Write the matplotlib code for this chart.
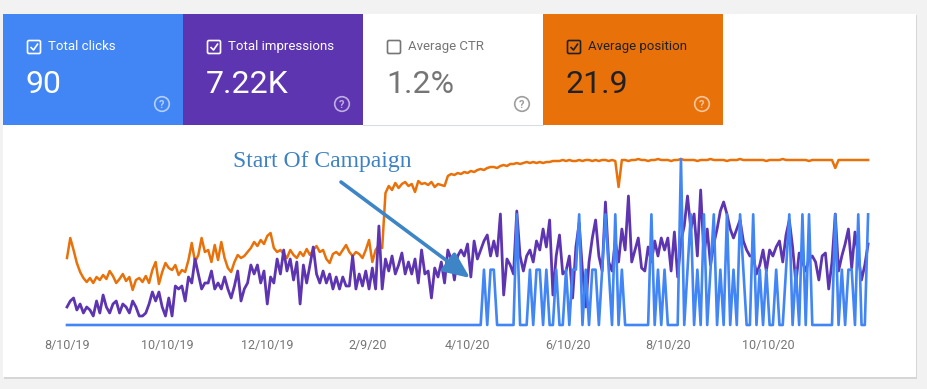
import matplotlib
matplotlib.use("Agg")
import matplotlib.pyplot as plt
from matplotlib.patches import Rectangle, FancyBboxPatch, Circle, FancyArrowPatch
import pandas as pd

plt.rcParams["font.family"] = ["Roboto", "DejaVu Sans"]

# --- data (one point every 2 days from 8/10/19) ---
start_day = "2019-08-10"

# average position (lower is better, axis drawn inverted)
position = [
    48.2, 40.2, 45, 50.2, 53.8, 56.2, 57.8, 56.2, 58.2, 55.8,
    57, 55, 56.6, 53.4, 55.4, 58.2, 56.6, 54.6, 57.4, 55.8,
    61, 57, 56.2, 57.8, 55.4, 58.2, 53, 49.8, 58.6, 53.8,
    50.2, 52.2, 53, 51, 55, 53, 53.8, 49, 42.2, 49.8,
    47, 40.2, 45.8, 45, 49.8, 43, 49, 41.8, 48.2, 52.2,
    53.8, 49.8, 47, 48.2, 47.4, 45.8, 44.2, 41.8, 43.4, 41,
    42.6, 39.4, 38.2, 44.2, 45.8, 45, 46.6, 48.2, 45, 47,
    48.2, 45.8, 47.4, 44.6, 47, 45, 43.4, 45.8, 45, 48.6,
    50.2, 46.6, 45.8, 47, 45, 43, 45.8, 47.4, 45.8, 46.6,
    48.2, 45, 41, 49.8, 45, 43, 44.2, 22.2, 19.4, 21,
    18.2, 20.2, 18.6, 17.8, 19.4, 18.6, 21.8, 17.4, 18.6, 18.2,
    19, 17.8, 19.8, 18.6, 19, 19.4, 15.4, 14.6, 15, 14.2,
    14.6, 13.8, 14.2, 13.4, 13.8, 13, 12.6, 13, 12.2, 11.8,
    11.8, 12.2, 11.4, 11, 11.4, 10.6, 10.6, 10.2, 10.6, 10.2,
    9.8, 10.2, 9.8, 10.2, 9.8, 10.2, 9.8, 9.8, 9.4, 9.4,
    9.4, 9, 9.4, 9, 9.4, 9.4, 9, 9.4, 9, 9,
    9.4, 9, 9.4, 9, 9, 9.4, 9, 9.4, 19.8, 9,
    9, 9.4, 9, 9, 8.6, 9, 9, 9.4, 9, 9,
    8.6, 9, 9, 9, 9.4, 9, 9, 8.6, 9, 9,
    9, 9, 9.4, 9, 9, 9, 8.6, 9, 9, 9,
    9, 9.4, 9, 9, 9, 8.6, 9, 9, 9, 9,
    9, 9, 9, 9.4, 9, 9, 9, 9, 8.6, 9,
    9, 9, 9, 9, 9, 9, 9.4, 9, 9, 9,
    9, 9, 9, 9, 12.2, 9, 9, 9, 9, 9,
    9, 9, 9, 9, 9,
]

impressions = [
    6, 8, 9, 5, 7, 4, 6, 5, 3, 8,
    4, 10, 6, 4, 7, 8, 4, 7, 6, 4,
    8, 6, 3, 3, 4, 7, 11, 8, 11, 6,
    3, 9, 3, 13, 12, 13, 8, 16, 14, 22,
    17, 12, 14, 14, 18, 12, 14, 12, 16, 12,
    9, 13, 18, 8, 12, 14, 20, 17, 20, 14,
    18, 7, 16, 14, 22, 17, 25, 18, 22, 15,
    21, 7, 20, 14, 20, 26, 17, 14, 18, 14,
    17, 12, 16, 12, 16, 13, 13, 23, 12, 17,
    13, 18, 12, 19, 12, 33, 12, 22, 18, 23,
    17, 20, 24, 17, 21, 17, 22, 14, 25, 17,
    18, 9, 19, 16, 21, 14, 25, 22, 15, 23,
    25, 23, 27, 16, 28, 22, 25, 28, 30, 23,
    28, 23, 37, 10, 22, 20, 17, 38, 23, 18,
    23, 25, 21, 28, 25, 32, 26, 35, 10, 23,
    30, 17, 18, 23, 9, 26, 34, 18, 6, 21,
    29, 35, 23, 18, 41, 21, 18, 28, 21, 32,
    25, 43, 21, 25, 29, 19, 18, 26, 21, 28,
    23, 29, 25, 29, 18, 31, 16, 28, 33, 43,
    32, 37, 23, 45, 23, 32, 20, 27, 32, 38,
    41, 37, 32, 29, 32, 35, 28, 25, 23, 23,
    17, 20, 25, 18, 25, 23, 26, 28, 21, 30,
    35, 26, 14, 24, 21, 18, 22, 23, 21, 15,
    23, 24, 12, 21, 37, 18, 23, 27, 32, 19,
    31, 23, 15, 20, 27,
]

clicks = [
    0, 0, 0, 0, 0, 0, 0, 0, 0, 0,
    0, 0, 0, 0, 0, 0, 0, 0, 0, 0,
    0, 0, 0, 0, 0, 0, 0, 0, 0, 0,
    0, 0, 0, 0, 0, 0, 0, 0, 0, 0,
    0, 0, 0, 0, 0, 0, 0, 0, 0, 0,
    0, 0, 0, 0, 0, 0, 0, 0, 0, 0,
    0, 0, 0, 0, 0, 0, 0, 0, 0, 0,
    0, 0, 0, 0, 0, 0, 0, 0, 0, 0,
    0, 0, 0, 0, 0, 0, 0, 0, 0, 0,
    0, 0, 0, 0, 0, 0, 0, 0, 0, 0,
    0, 0, 0, 0, 0, 0, 0, 0, 0, 0,
    0, 0, 0, 0, 0, 0, 0, 0, 0, 0,
    0, 0, 0, 0, 0, 0, 0, 1, 0, 1,
    1, 0, 0, 0, 0, 0, 0, 2, 0, 0,
    0, 1, 0, 1, 1, 0, 1, 0, 0, 1,
    0, 0, 1, 0, 1, 1, 2, 0, 1, 0,
    1, 1, 0, 1, 2, 1, 0, 2, 0, 1,
    0, 0, 0, 0, 0, 0, 0, 0, 2, 0,
    1, 0, 1, 0, 0, 0, 0, 3, 0, 1,
    2, 0, 1, 0, 2, 0, 1, 2, 0, 1,
    0, 2, 0, 1, 0, 2, 1, 0, 0, 2,
    0, 1, 0, 1, 0, 0, 1, 0, 0, 1,
    2, 0, 1, 0, 2, 0, 2, 0, 0, 0,
    0, 0, 0, 0, 2, 0, 1, 0, 1, 1,
    0, 2, 0, 0, 2,
]

tick_dates = ["2019-08-10", "2019-10-10", "2019-12-10", "2020-02-09",
              "2020-04-10", "2020-06-10", "2020-08-10", "2020-10-10"]
tick_labels = ["8/10/19", "10/10/19", "12/10/19", "2/9/20",
               "4/10/20", "6/10/20", "8/10/20", "10/10/20"]

tile_labels = ["Total clicks", "Total impressions", "Average CTR", "Average position"]
tile_values = ["90", "7.22K", "1.2%", "21.9"]
tile_checked = [True, True, False, True]

BLUE, PURPLE, ORANGE = "#4285f4", "#5e35b1", "#e8710a"

W, H = 927, 389
fig = plt.figure(figsize=(W / 100, H / 100), dpi=100, facecolor="#f2f2f2")

# background layer in image pixel coords (y down)
bg = fig.add_axes([0, 0, 1, 1])
bg.set_xlim(0, W)
bg.set_ylim(H, 0)
bg.axis("off")
bg.add_patch(Rectangle((4, 15), 913, 364, color="#d6d6d6", lw=0))
bg.add_patch(Rectangle((3, 14), 913, 363, color="white", lw=0))

tile_fill = [BLUE, PURPLE, "white", ORANGE]
tile_fg = ["white", "white", "#757575", "#202124"]
tile_w = 180
for k in range(4):
    L = 3 + k * tile_w
    bg.add_patch(Rectangle((L, 14), tile_w, 110.5, color=tile_fill[k], lw=0))
    fg = tile_fg[k]
    bg.add_patch(FancyBboxPatch((L + 24.5, 40.5), 13, 13,
                                boxstyle="round,pad=0,rounding_size=1.5",
                                fc="none", ec=fg, lw=1.2))
    if tile_checked[k]:
        bg.plot([L + 27.5, L + 30.5, L + 35], [47, 50, 43.5], color=fg, lw=1.2,
                solid_capstyle="butt")
    bg.text(L + 45, 46.5, tile_labels[k], color=fg, fontsize=9.5, va="center", ha="left")
    bg.text(L + 23, 92.5, tile_values[k], color=fg, fontsize=23, va="baseline", ha="left")
    icon_col = "#9e9e9e" if k == 2 else "white"
    icon_a = 1.0 if k == 2 else 0.6
    bg.add_patch(Circle((L + 159, 104), 7.3, fc="none", ec=icon_col, lw=1.2, alpha=icon_a))
    bg.text(L + 159, 104.5, "?", color=icon_col, alpha=icon_a, fontsize=8,
            ha="center", va="center", fontweight="bold")
bg.plot([363, 543], [124.5, 124.5], color="#dadce0", lw=0.8)

# chart axes, pixel box x 60..875, y 135..330
ax = fig.add_axes([60 / W, (H - 330) / H, 815 / W, 195 / H])
ax_imp = ax.twinx()
ax_clk = ax.twinx()
for a in (ax, ax_imp, ax_clk):
    a.axis("off")
    a.patch.set_alpha(0)

dates = pd.date_range(start_day, periods=len(position), freq="2D")
t0 = pd.Timestamp(start_day)
ax.set_xlim(t0 - pd.Timedelta(days=4.26), t0 + pd.Timedelta(days=492.2))

ax.plot(dates, position, color=ORANGE, lw=1.8)
ax.set_ylim(77, -1)
ax_imp.plot(dates, impressions, color=PURPLE, lw=2.0)
ax_imp.set_ylim(-1.667, 63.33)
ax_clk.plot(dates, clicks, color=BLUE, lw=1.9)
ax_clk.set_ylim(-0.0904, 3.434)

for d, lab in zip(tick_dates, tick_labels):
    ax.text(pd.Timestamp(d), -0.082, lab, transform=ax.get_xaxis_transform(),
            ha="center", va="center", fontsize=9, color="#757575")

# annotation
fig.text(233 / W, (H - 161) / H, "Start Of Campaign", family="Liberation Serif",
         fontsize=17, color="#3c82c3", ha="left", va="center")
arrow = FancyArrowPatch((341 / W, (H - 182) / H), (470 / W, (H - 278) / H),
                        transform=fig.transFigure,
                        arrowstyle="-|>,head_length=0.8,head_width=0.35",
                        mutation_scale=20, color="#3d85c6", lw=2.6,
                        shrinkA=0, shrinkB=0)
fig.add_artist(arrow)

fig.savefig("out.png", dpi=100, facecolor=fig.get_facecolor())
